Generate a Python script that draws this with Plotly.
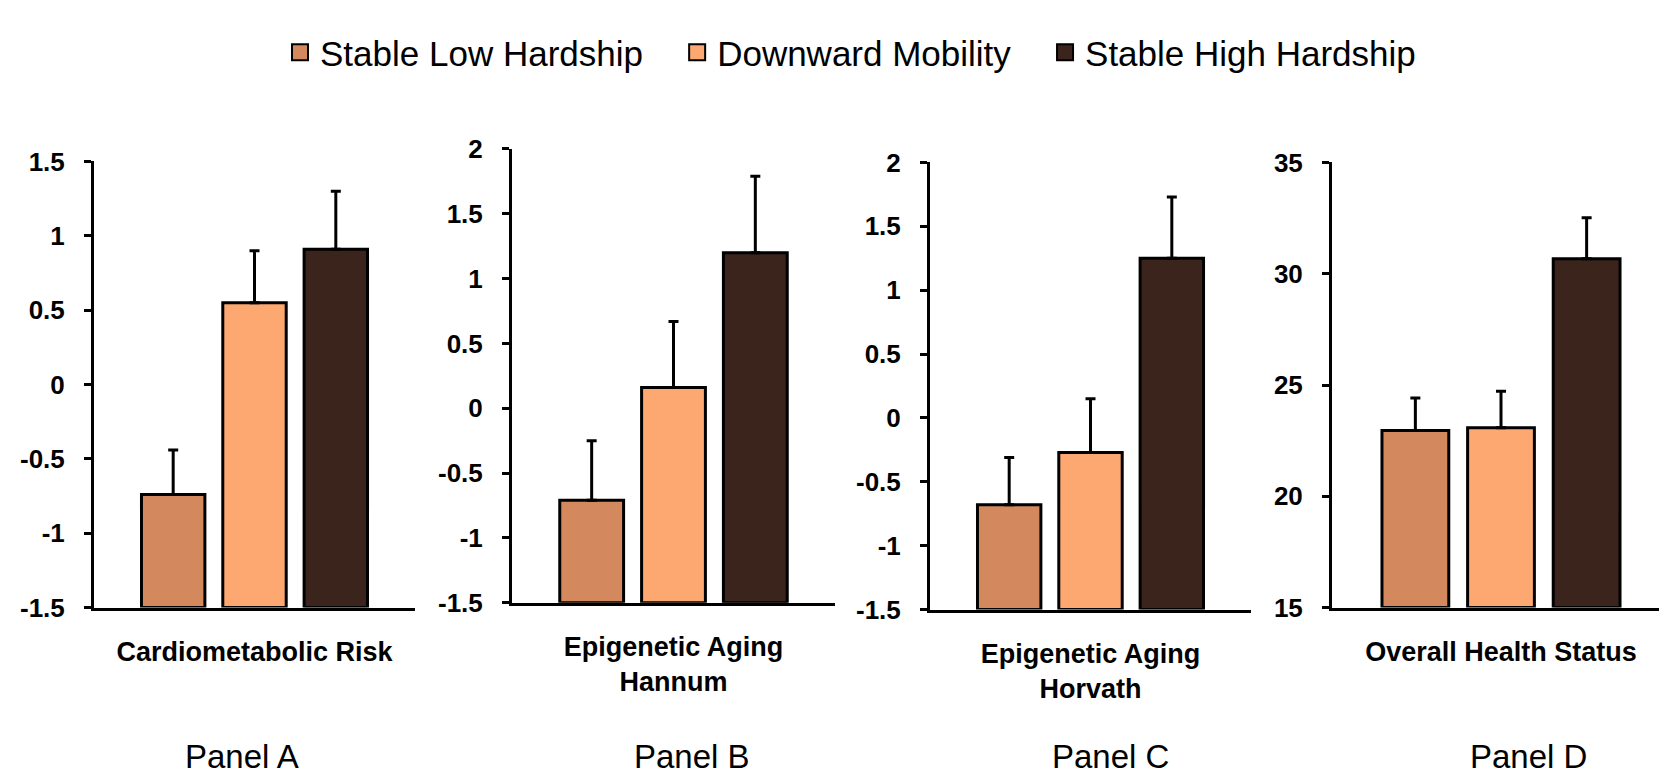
import plotly.graph_objects as go

# ---------------- data ----------------
groups = ["Stable Low Hardship", "Downward Mobility", "Stable High Hardship"]
colors = ["#D3895D", "#FCA870", "#3A241B"]

outcomes = ["Cardiometabolic Risk", "Epigenetic Aging<br>Hannum",
            "Epigenetic Aging<br>Horvath", "Overall Health Status"]
panel_labels = ["Panel A", "Panel B", "Panel C", "Panel D"]

stable_low = [-0.74, -0.71, -0.68, 22.96]
downward = [0.55, 0.16, -0.27, 23.08]
stable_high = [0.91, 1.20, 1.25, 30.67]

err_low = [0.30, 0.46, 0.37, 1.46]
err_down = [0.35, 0.51, 0.42, 1.64]
err_high = [0.39, 0.59, 0.48, 1.84]

y_ranges = [[-1.5, 1.5], [-1.5, 2], [-1.5, 2], [15, 35]]
tick_vals_a = [-1.5, -1, -0.5, 0, 0.5, 1, 1.5]
tick_text_a = ["-1.5", "-1", "-0.5", "0", "0.5", "1", "1.5"]
tick_vals_bc = [-1.5, -1, -0.5, 0, 0.5, 1, 1.5, 2]
tick_text_bc = ["-1.5", "-1", "-0.5", "0", "0.5", "1", "1.5", "2"]
tick_vals_d = [15, 20, 25, 30, 35]
tick_text_d = ["15", "20", "25", "30", "35"]

values = [stable_low, downward, stable_high]
errors = [err_low, err_down, err_high]
ticks = [(tick_vals_a, tick_text_a), (tick_vals_bc, tick_text_bc),
         (tick_vals_bc, tick_text_bc), (tick_vals_d, tick_text_d)]

# ---------------- layout geometry (pixels) ----------------
W, H = 1667, 780
x_px = [(86, 407), (504, 827), (922, 1243), (1324, 1662)]
y_px = [(144, 608), (131, 603), (145, 610), (145, 608)]
panel_x = [234, 684, 1102, 1520]
panel_y = 763
legend_left = 272

FONT = "Liberation Sans, Arial, sans-serif"
NBSP = "\u00a0"

fig = go.Figure()
for p in range(4):
    ax = "" if p == 0 else str(p + 1)
    floor = y_ranges[p][0]  # bars rise from the bottom of the value axis
    for g in range(3):
        fig.add_trace(go.Bar(
            x=[outcomes[p]], y=[values[g][p] - floor], base=[floor],
            name=groups[g], legendgroup=groups[g], showlegend=False,
            marker=dict(color=colors[g], line=dict(color="black", width=3)),
            error_y=dict(type="data", array=[errors[g][p]], arrayminus=[0],
                         symmetric=False, color="black", thickness=3, width=5),
            xaxis="x" + ax, yaxis="y" + ax,
        ))

# legend entries (larger square swatches, like the original)
for g in range(3):
    label = groups[g] + (NBSP * 3 if g < 2 else "")
    fig.add_trace(go.Scatter(
        x=[None], y=[None], mode="markers", name=label, legendgroup=groups[g],
        marker=dict(symbol="square", size=16, color=colors[g],
                    line=dict(color="black", width=2)),
        showlegend=True, xaxis="x", yaxis="y", hoverinfo="skip",
    ))

layout = dict(
    width=W, height=H,
    margin=dict(l=0, r=0, t=0, b=0),
    paper_bgcolor="white", plot_bgcolor="white",
    barmode="group", bargap=0.24, bargroupgap=0.22,
    font=dict(family=FONT, color="black"),
    legend=dict(orientation="h", x=legend_left / W, xanchor="left", y=1.0, yanchor="top",
                font=dict(size=35, family=FONT, color="black"),
                itemwidth=30, tracegroupgap=0, itemclick=False),
    showlegend=True,
)

for p in range(4):
    ax = "" if p == 0 else str(p + 1)
    x0, x1 = x_px[p]
    yt, yb = y_px[p]
    layout["xaxis" + ax] = dict(
        domain=[x0 / W, x1 / W], anchor="y" + ax,
        showline=True, linecolor="black", linewidth=3,
        showgrid=False, zeroline=False, ticks="",
        ticklabelstandoff=18,
        tickfont=dict(size=27, family=FONT, color="black", weight="bold"),
        fixedrange=True,
    )
    layout["yaxis" + ax] = dict(
        domain=[1 - yb / H, 1 - yt / H], anchor="x" + ax,
        range=y_ranges[p],
        showline=True, linecolor="black", linewidth=3,
        showgrid=False, zeroline=False,
        ticks="outside", ticklen=7, tickwidth=3, tickcolor="black",
        tickvals=ticks[p][0], ticktext=ticks[p][1],
        ticklabelstandoff=14,
        tickfont=dict(size=26, family=FONT, color="black", weight="bold"),
        fixedrange=True,
    )

fig.update_layout(**layout)

for p in range(4):
    fig.add_annotation(x=panel_x[p] / W, y=1 - panel_y / H, xref="paper", yref="paper",
                       text=panel_labels[p], showarrow=False,
                       xanchor="center", yanchor="middle",
                       font=dict(size=33, family=FONT, color="black"))

fig.write_html("out.html")
